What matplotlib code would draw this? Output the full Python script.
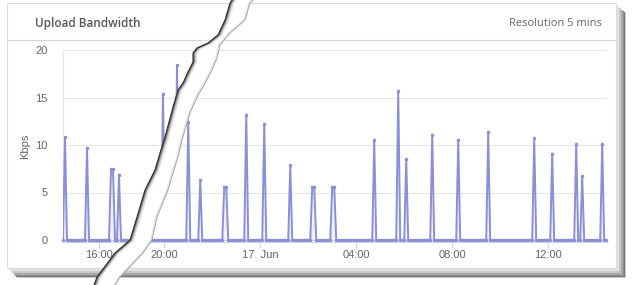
import numpy as np
import pandas as pd
import matplotlib
matplotlib.use('Agg')
import matplotlib.pyplot as plt
from matplotlib.patches import Rectangle, Polygon
from matplotlib.lines import Line2D

# Upload bandwidth samples (5 min resolution), only non-zero samples listed
start = '2024-06-16 14:30'
end = '2024-06-17 14:25'
spike_times = ['2024-06-16 14:35', '2024-06-16 15:30', '2024-06-16 16:30', '2024-06-16 16:35',
               '2024-06-16 16:50', '2024-06-16 18:40', '2024-06-16 19:15', '2024-06-16 21:00',
               '2024-06-16 21:30', '2024-06-16 22:30', '2024-06-16 22:35', '2024-06-16 23:25',
               '2024-06-17 00:10', '2024-06-17 01:15', '2024-06-17 02:10', '2024-06-17 02:15',
               '2024-06-17 03:00', '2024-06-17 03:05', '2024-06-17 04:45', '2024-06-17 05:45',
               '2024-06-17 06:05', '2024-06-17 07:10', '2024-06-17 08:15', '2024-06-17 09:30',
               '2024-06-17 11:25', '2024-06-17 12:10', '2024-06-17 13:10', '2024-06-17 13:25',
               '2024-06-17 14:15']
spike_values = [10.8, 9.7, 7.45, 7.45, 6.85, 15.4, 18.4, 12.4, 6.3, 5.6, 5.6, 13.2,
                12.2, 7.9, 5.6, 5.6, 5.6, 5.6, 10.5, 15.7, 8.55, 11.1, 10.55, 11.4,
                10.7, 9.1, 10.1, 6.7, 10.15]

left_ticks = [16]
left_labels = ['16:00']
right_ticks = [20, 24, 28, 32, 36]
right_labels = ['20:00', '17. Jun', '04:00', '08:00', '12:00']

# build series
idx = pd.date_range(start, end, freq='5min')
kbps = pd.Series(0.0, index=idx)
kbps[pd.to_datetime(spike_times)] = spike_values
hours = (idx - pd.Timestamp('2024-06-16')) / pd.Timedelta(hours=1)

W, H = 633, 285
fig = plt.figure(figsize=(W / 100, H / 100), dpi=100)
fig.patch.set_facecolor('white')


def fx(x):
    return x / W


def fy(y):
    return 1 - y / H


# card with drop shadow (screenshot effect)
for off, col in [(10, '#c8c8c8'), (9, '#7a7a7a'), (8, '#8c8c8c'), (7, '#a8a8a8'),
                 (5, '#c8c8c8'), (3, '#e2e2e2'), (1, '#f2f2f2')]:
    fig.add_artist(Rectangle((fx(7 + off), fy(268 + off)), fx(609), 265 / H,
                             transform=fig.transFigure, facecolor=col, edgecolor='none', zorder=-3))
fig.add_artist(Rectangle((fx(7), fy(268)), fx(609), 265 / H, transform=fig.transFigure,
                         facecolor='white', edgecolor='#dcdcdc', lw=0.8, zorder=-2))
fig.add_artist(Line2D([fx(7), fx(616)], [fy(40), fy(40)], transform=fig.transFigure,
                      color='#d6d6d6', lw=0.8, zorder=-1))

fig.text(fx(35), fy(23), 'Upload Bandwidth', fontsize=8.5, color='#555555',
         family='Open Sans', weight='semibold', va='center')
fig.text(fx(602), fy(23), 'Resolution 5 mins', fontsize=8, color='#666666',
         family='Open Sans', ha='right', va='center')

# plot area
rect = [fx(63), fy(241.9), fx(544), (241.9 - 50) / H]
ax = fig.add_axes(rect)
axl = fig.add_axes(rect)
line_col = '#8a8fd6'

ax.set_xlim(15.78, 38.45)
axl.set_xlim(14.5, 14.5 + 544 / 24)
for a in (ax, axl):
    a.set_ylim(-0.2, 20)
    a.patch.set_visible(False)

ax.set_yticks([0, 5, 10, 15, 20])
ax.set_yticklabels(['0', '5', '10', '15', '20'], fontsize=8, color='#666666', family='Liberation Sans')
ax.tick_params(axis='y', length=0, pad=11)
ax.grid(axis='y', color='#e6e6e6', lw=0.8)
ax.set_axisbelow(True)
ax.set_ylabel('Kbps', fontsize=8, color='#666666', family='Liberation Sans', labelpad=4)
for s in ['top', 'right']:
    ax.spines[s].set_visible(False)
ax.spines['left'].set_color('#e6e6e6')
ax.spines['bottom'].set_color('#ccd6eb')

ax.set_xticks(right_ticks)
ax.set_xticklabels(right_labels)
axl.set_xticks(left_ticks)
axl.set_xticklabels(left_labels)
axl.set_yticks([])
for s in axl.spines.values():
    s.set_visible(False)
for a in (ax, axl):
    a.tick_params(axis='x', length=4.5, color='#ccd6eb', labelsize=8, labelcolor='#666666', pad=1)
    for t in a.get_xticklabels():
        t.set_family('Liberation Sans')

# torn edge outlines (pixel coords)
left_edge = [(232, 0), (230, 3), (225, 20), (218, 35), (208, 43), (197, 48), (193, 53), (193, 62),
             (188, 72), (183, 83), (178, 90), (173, 107), (165, 137), (160, 153), (155, 170),
             (150, 180), (145, 190), (137, 217), (130, 240), (115, 253), (97, 277), (94, 285)]
right_edge = [(253, 0), (250, 3), (245, 20), (230, 33), (220, 45), (217, 58), (212, 70), (203, 87),
              (198, 95), (190, 113), (182, 140), (178, 157), (173, 173), (168, 190), (157, 217),
              (152, 240), (143, 253), (120, 277), (115, 285)]

clip_l = Polygon([(fx(x), fy(y)) for x, y in [(0, 0)] + left_edge + [(0, H)]],
                 closed=True, transform=fig.transFigure, visible=False)
clip_r = Polygon([(fx(x), fy(y)) for x, y in [(W, 0)] + right_edge + [(W, H)]],
                 closed=True, transform=fig.transFigure, visible=False)

for a, clip in [(axl, clip_l), (ax, clip_r)]:
    fill = a.fill_between(hours, 0, kbps.values, color=line_col, alpha=0.12, lw=0)
    ln, = a.plot(hours, kbps.values, color=line_col, lw=1.4, marker='o', ms=1.5)
    fill.set_clip_path(clip)
    ln.set_clip_path(clip)

# the tear
tear = Polygon([(fx(x), fy(y)) for x, y in left_edge + right_edge[::-1]], closed=True,
               transform=fig.transFigure, facecolor='white', edgecolor='none', zorder=5)
fig.add_artist(tear)
for dx, col, lw in [(3.5, '#ececec', 1.5), (2.5, '#d0d0d0', 1.2), (1.5, '#a0a0a0', 1.0),
                    (0.7, '#606060', 0.9), (0, '#303030', 0.8)]:
    fig.add_artist(Line2D([fx(x + dx) for x, y in left_edge], [fy(y) for x, y in left_edge],
                          transform=fig.transFigure, color=col, lw=lw, zorder=6))
for dx, col, lw in [(-1.2, '#e6e6e6', 1.0), (0, '#a0a0a0', 0.7)]:
    fig.add_artist(Line2D([fx(x + dx) for x, y in right_edge], [fy(y) for x, y in right_edge],
                          transform=fig.transFigure, color=col, lw=lw, zorder=6))

fig.savefig('out.png', dpi=100)
